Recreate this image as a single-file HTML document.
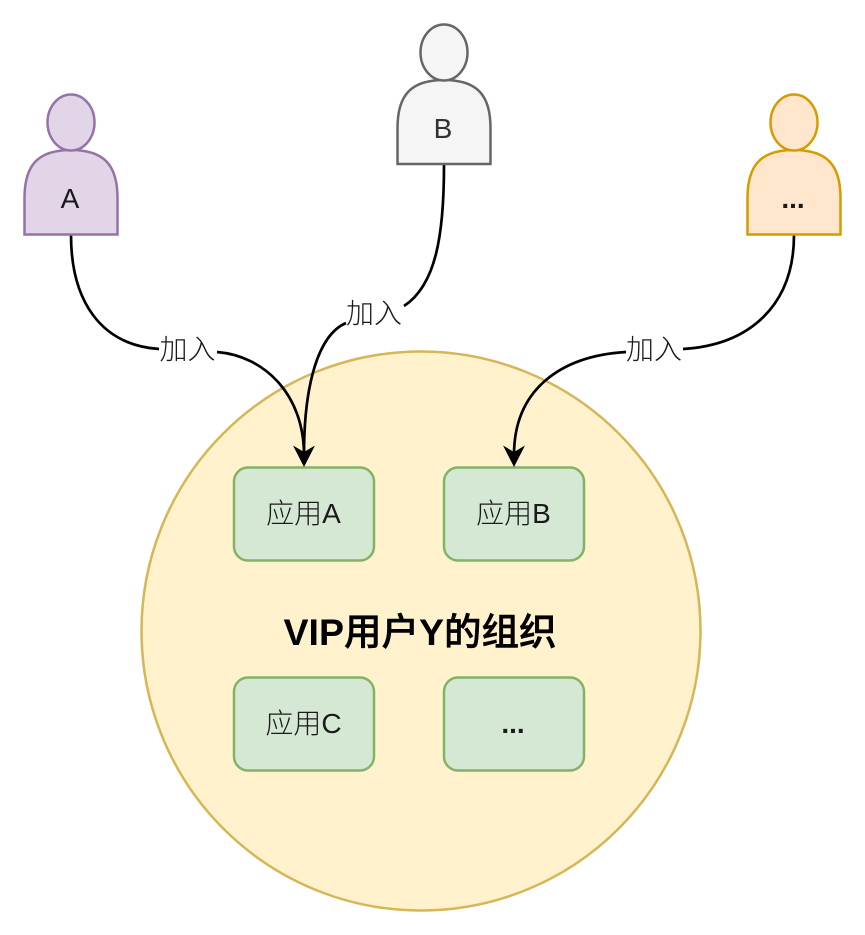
<!DOCTYPE html>
<html><head><meta charset="utf-8"><style>
html,body{margin:0;padding:0;background:#fff;width:865px;height:935px;overflow:hidden}
svg{display:block}
text{font-family:"Liberation Sans","Noto Sans CJK SC",sans-serif;text-anchor:middle;fill:#1a1a1a}
</style></head><body>
<svg width="865" height="935" viewBox="0 0 865 935" xmlns="http://www.w3.org/2000/svg">
<circle cx="421" cy="631" r="279.500" fill="#fff2cc" stroke="#d6b656" stroke-width="2.500"/>
<g fill="#d5e8d4" stroke="#82b366" stroke-width="2.500">
<rect x="234" y="467.500" width="140" height="93" rx="14"/>
<rect x="444" y="467.500" width="140" height="93" rx="14"/>
<rect x="234" y="677.500" width="140" height="93" rx="14"/>
<rect x="444" y="677.500" width="140" height="93" rx="14"/>
</g>
<g fill="none" stroke="#000" stroke-width="2.700">
<path d="M71 235C71 300 100 345 159 349"/>
<path d="M217 352C265 356 304 395 304 455"/>
<path d="M444 165C444 235 436 285 404 306"/>
<path d="M346 323C318 335 304 385 304 455"/>
<path d="M794 235C794 305 750 345 683 349"/>
<path d="M626 352C560 356 514 390 514 455"/>
</g>
<path d="M304 467L293 445.500L304 452L315 445.500Z" fill="#000"/>
<path d="M514 467L503 445.500L514 452L525 445.500Z" fill="#000"/>
<g stroke-width="2.500">
<g fill="#e1d5e7" stroke="#9673a6">
<path d="M24.500 234.500V198C24.500 165 38 150 71 150C104 150 117.500 165 117.500 198V234.500Z"/>
<ellipse cx="71" cy="122.500" rx="23.500" ry="28"/>
</g>
<g fill="#f5f5f5" stroke="#666">
<path d="M397.500 164V128C397.500 95 411 80 444 80C477 80 490.500 95 490.500 128V164Z"/>
<ellipse cx="444" cy="52.500" rx="23.500" ry="28"/>
</g>
<g fill="#ffe6cc" stroke="#d79b00">
<path d="M747.500 234.500V198C747.500 165 761 150 794 150C827 150 840.500 165 840.500 198V234.500Z"/>
<ellipse cx="794" cy="122.500" rx="23.500" ry="28"/>
</g>
</g>
<text x="70" y="208" font-size="28">A</text>
<text x="443" y="138" font-size="28" style="fill:#333">B</text>
<text x="793" y="208" font-size="28" font-weight="bold">...</text>
<text x="187.500" y="359" font-size="28" font-weight="300">加入</text>
<text x="374" y="323" font-size="28" font-weight="300">加入</text>
<text x="654" y="359" font-size="28" font-weight="300">加入</text>
<text x="303.500" y="523" font-size="28" font-weight="300">应用A</text>
<text x="513.500" y="523" font-size="28" font-weight="300">应用B</text>
<text x="303.500" y="733" font-size="28" font-weight="300">应用C</text>
<text x="513" y="733" font-size="28" font-weight="bold">...</text>
<text x="420" y="645" font-size="37.500" font-weight="bold" style="fill:#000">VIP<tspan font-weight="500" stroke="#000" stroke-width=".5">用户</tspan>Y<tspan font-weight="500" stroke="#000" stroke-width=".5">的组织</tspan></text>
</svg>
</body></html>
